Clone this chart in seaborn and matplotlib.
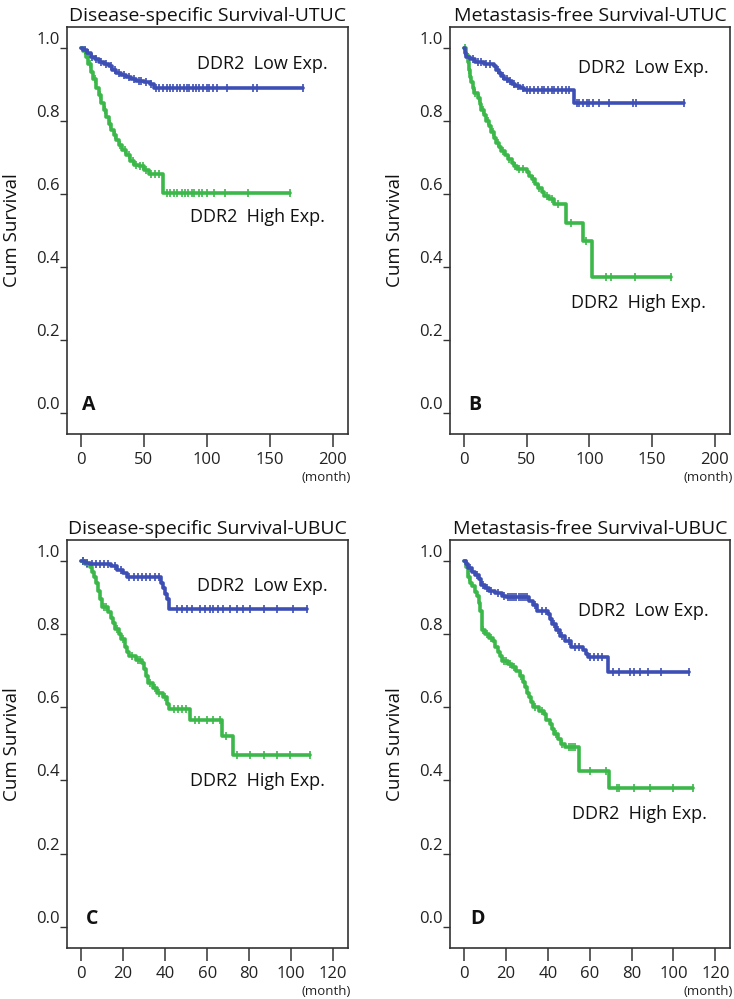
import numpy as np
import pandas as pd
import matplotlib
matplotlib.use('Agg')
import matplotlib.pyplot as plt
import seaborn as sns

sns.set_style('ticks')
plt.rcParams['font.family'] = ['Open Sans', 'DejaVu Sans']

BLUE = '#3d4fb5'
GREEN = '#3cb84a'

# ---- A: Disease-specific Survival-UTUC ----
a_low_t = [0, 2, 5, 8, 11, 14, 18, 22, 25, 28, 32, 36, 40, 44, 50, 55, 58]
a_low_s = [1.0, 0.995, 0.985, 0.975, 0.968, 0.96, 0.955, 0.95, 0.94, 0.932, 0.926, 0.92, 0.915, 0.91, 0.905, 0.9, 0.891]
a_low_end = 176
a_low_cens = [3, 6, 9, 12, 16, 20, 24, 27, 30, 34, 38, 42, 46, 48, 52, 56, 60, 62, 65, 68, 71, 73, 76, 79, 82, 84, 86, 89, 91,
              94, 97, 100, 102, 105, 108, 116, 137, 140, 176]
a_high_t = [0, 2, 4, 6, 8, 10, 12, 14, 16, 18, 20, 22, 24, 26, 28, 30, 33, 36, 39, 42, 46, 50, 54, 65]
a_high_s = [1.0, 0.99, 0.975, 0.955, 0.935, 0.915, 0.89, 0.87, 0.85, 0.83, 0.81, 0.79, 0.775, 0.76, 0.748, 0.735, 0.72,
            0.705, 0.69, 0.68, 0.675, 0.665, 0.655, 0.603]
a_high_end = 166
a_high_cens = [3, 7, 11, 15, 19, 23, 27, 31, 35, 38, 41, 44, 47, 49, 52, 56, 59, 62, 68, 71, 74, 76, 80, 83, 85, 88, 90, 94,
               96, 100, 106, 114, 133, 166]

# ---- B: Metastasis-free Survival-UTUC ----
b_low_t = [0, 1, 2, 5, 9, 16, 24, 26, 28, 30, 32, 35, 38, 41, 45, 48, 88]
b_low_s = [1.0, 0.985, 0.975, 0.968, 0.962, 0.956, 0.95, 0.94, 0.93, 0.922, 0.915, 0.908, 0.9, 0.895, 0.89, 0.885, 0.85]
b_low_end = 175
b_low_cens = [3, 7, 11, 14, 18, 21, 27, 31, 34, 37, 40, 43, 47, 50, 53, 56, 59, 62, 64, 67, 70, 72, 75, 78, 81, 84, 90, 92,
              95, 98, 100, 103, 108, 116, 135, 137, 175]
b_high_t = [0, 2, 3, 4, 5, 6, 7, 8, 11, 13, 14, 16, 18, 20, 22, 24, 26, 28, 30, 33, 35, 38, 40, 42, 50, 52, 54, 57, 59, 62,
            64, 68, 72, 81, 95, 102]
b_high_s = [1.0, 0.98, 0.96, 0.94, 0.92, 0.905, 0.89, 0.875, 0.862, 0.845, 0.83, 0.815, 0.8, 0.785, 0.77, 0.752, 0.738,
            0.728, 0.718, 0.706, 0.696, 0.685, 0.675, 0.668, 0.66, 0.65, 0.64, 0.628, 0.617, 0.605, 0.595, 0.585, 0.573,
            0.52, 0.47, 0.372]
b_high_end = 165
b_high_cens = [1, 4, 9, 12, 15, 19, 23, 27, 31, 36, 41, 44, 47, 55, 60, 66, 70, 75, 85, 97, 113, 117, 136, 165]

# ---- C: Disease-specific Survival-UBUC ----
c_low_t = [0, 2, 4, 14, 17, 20, 22, 38, 39, 40, 41, 42]
c_low_s = [1.0, 0.995, 0.99, 0.985, 0.975, 0.966, 0.956, 0.94, 0.925, 0.91, 0.895, 0.868]
c_low_end = 107.5
c_low_cens = [1, 3, 5, 7, 9, 11, 13, 16, 19, 23, 25, 27, 29, 31, 33, 35, 37, 45.7, 48, 50.5, 53, 56.6, 59, 61.4, 63, 65,
              67.6, 71, 74, 77, 80.5, 87, 93, 101, 107.5]
c_high_t = [0, 2, 4, 5, 6, 7, 8, 9, 10, 13, 14, 15, 16, 18, 19, 21, 22, 23, 26, 29, 30, 31, 32, 34, 36, 39, 41, 42, 52,
            67, 72.5]
c_high_s = [1.0, 0.99, 0.983, 0.97, 0.956, 0.94, 0.918, 0.895, 0.874, 0.86, 0.845, 0.83, 0.815, 0.8, 0.785, 0.765, 0.752,
            0.74, 0.73, 0.72, 0.705, 0.685, 0.665, 0.652, 0.64, 0.627, 0.61, 0.594, 0.564, 0.52, 0.47]
c_high_end = 109
c_high_cens = [1, 3, 11, 12, 17, 20, 24, 27, 28, 33, 35, 37, 40, 44, 46, 48, 50, 54, 56, 60, 63, 66, 69, 74, 80.5, 87, 93,
               99.5, 109]

# ---- D: Metastasis-free Survival-UBUC ----
d_low_t = [0, 1, 2, 4, 5, 7, 8, 10, 12, 15, 18, 20, 31, 33, 35, 40, 41, 42, 44, 46, 48, 51, 57, 58, 59, 68.6]
d_low_s = [1.0, 0.99, 0.98, 0.97, 0.96, 0.95, 0.935, 0.925, 0.918, 0.912, 0.905, 0.9, 0.89, 0.878, 0.862, 0.855, 0.84,
           0.827, 0.81, 0.795, 0.78, 0.764, 0.755, 0.745, 0.737, 0.696]
d_low_end = 107.5
d_low_cens = [3, 6, 9, 11, 13, 16, 19, 21, 22, 23, 24, 25, 26, 27, 28, 29, 30, 34, 37, 39, 43, 45, 47, 50, 53, 55, 60, 62,
              64, 66, 71, 74, 79, 81, 84, 87.6, 93.8, 107.5]
d_high_t = [0, 1, 2, 3, 4, 5, 6, 7, 7.6, 8.5, 10, 12, 14, 15, 16, 17, 18, 21, 23, 25, 26.5, 28, 29, 30, 31, 32, 33, 36,
            38, 39, 41, 42, 43, 45, 46.5, 48, 55, 69]
d_high_s = [1.0, 0.984, 0.956, 0.94, 0.93, 0.915, 0.905, 0.885, 0.863, 0.81, 0.8, 0.79, 0.78, 0.765, 0.75, 0.74, 0.726,
            0.718, 0.71, 0.7, 0.685, 0.67, 0.655, 0.64, 0.627, 0.615, 0.6, 0.59, 0.58, 0.565, 0.553, 0.54, 0.526, 0.512,
            0.5, 0.49, 0.425, 0.38]
d_high_end = 109.5
d_high_cens = [2.5, 9, 11, 13, 19, 20, 22, 24, 27, 34, 37, 44, 47, 50, 51, 52, 53, 60, 68, 72.8, 74, 81, 88.6, 100, 109.5]

panels = [
    ('Disease-specific Survival-UTUC', 'A', [0, 50, 100, 150, 200], (-11, 212),
     (a_low_t, a_low_s, a_low_end, a_low_cens), (a_high_t, a_high_s, a_high_end, a_high_cens),
     (196, 0.956), (194, 0.537), 6.3),
    ('Metastasis-free Survival-UTUC', 'B', [0, 50, 100, 150, 200], (-11, 212),
     (b_low_t, b_low_s, b_low_end, b_low_cens), (b_high_t, b_high_s, b_high_end, b_high_cens),
     (195, 0.945), (193, 0.30), 8.7),
    ('Disease-specific Survival-UBUC', 'C', [0, 20, 40, 60, 80, 100, 120], (-6.7, 127),
     (c_low_t, c_low_s, c_low_end, c_low_cens), (c_high_t, c_high_s, c_high_end, c_high_cens),
     (117.5, 0.93), (116, 0.397), 5.2),
    ('Metastasis-free Survival-UBUC', 'D', [0, 20, 40, 60, 80, 100, 120], (-6.7, 127),
     (d_low_t, d_low_s, d_low_end, d_low_cens), (d_high_t, d_high_s, d_high_end, d_high_cens),
     (117, 0.863), (116, 0.307), 6.2),
]

boxes = [[0.0913, 0.5656, 0.3828, 0.4074], [0.6131, 0.5656, 0.3815, 0.4074],
         [0.0913, 0.0511, 0.3828, 0.4084], [0.6131, 0.0511, 0.3815, 0.4084]]


def step_frame(t, s, end):
    tt = list(t) + [end]
    ss = list(s) + [s[-1]]
    return pd.DataFrame({'time': tt, 'surv': ss})


def cens_frame(t, s, cens):
    idx = np.searchsorted(np.array(t), np.array(cens), side='right') - 1
    return pd.DataFrame({'time': cens, 'surv': np.array(s)[idx]})


fig = plt.figure(figsize=(7.34, 9.99), dpi=100)

for box, (title, letter, xt, xlim, low, high, low_pos, high_pos, lx) in zip(boxes, panels):
    ax = fig.add_axes(box)
    for (t, s, end, cens), col in [(high, GREEN), (low, BLUE)]:
        sns.lineplot(data=step_frame(t, s, end), x='time', y='surv', drawstyle='steps-post',
                     color=col, lw=2.6, estimator=None, sort=False, ax=ax)
        sns.scatterplot(data=cens_frame(t, s, cens), x='time', y='surv', marker='|', s=30,
                        color=col, linewidth=1.2, ax=ax)
    ax.set_xlim(xlim)
    ax.set_ylim(-0.058, 1.057)
    ax.set_xticks(xt)
    ax.set_yticks([0.0, 0.2, 0.4, 0.6, 0.8, 1.0])
    ax.set_yticklabels(['0.0', '0.2', '0.4', '0.6', '0.8', '1.0'], va='bottom')
    ax.tick_params(axis='x', bottom=True, direction='out', length=9, width=1.1, pad=4, labelsize=12,
                   color='#333333', labelcolor='#222222')
    ax.tick_params(axis='y', left=True, direction='out', length=5, width=1.0, pad=0, labelsize=12,
                   color='#333333', labelcolor='#222222')
    for sp in ax.spines.values():
        sp.set_visible(True)
        sp.set_color('#333333')
        sp.set_linewidth(1.2)
    ax.set_xlabel('')
    ax.set_ylabel('Cum Survival', fontsize=13.5, labelpad=11, color='#111111')
    ax.set_title(title, fontsize=14, pad=4, color='#111111')
    ax.text(low_pos[0], low_pos[1], 'DDR2  Low Exp.', ha='right', va='center', fontsize=13, color='#111111')
    ax.text(high_pos[0], high_pos[1], 'DDR2  High Exp.', ha='right', va='center', fontsize=13, color='#111111')
    ax.text(lx, 0.02, letter, ha='center', va='center', fontsize=14, fontweight='bold', color='#111111')
    ax.text(1.01, -0.106, '(month)', transform=ax.transAxes, ha='right', va='center', fontsize=9.5, color='#222222')

fig.savefig('out.png', dpi=100)
